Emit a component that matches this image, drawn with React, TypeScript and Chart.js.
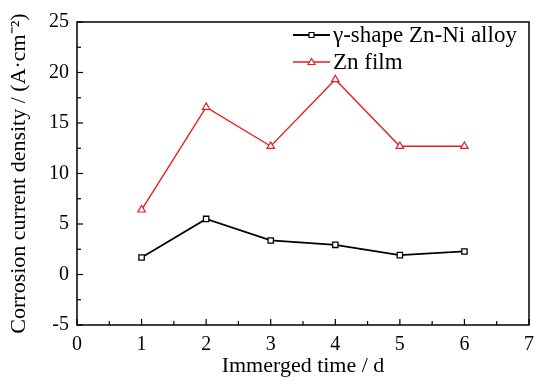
import React, { useEffect, useRef } from "react";
import { Chart, registerables } from "chart.js";

Chart.register(...registerables);

const days = [1, 2, 3, 4, 5, 6];
const znNiAlloy = [1.68, 5.5, 3.37, 2.94, 1.92, 2.28];
const znFilm = [6.4, 16.57, 12.7, 19.3, 12.7, 12.7];
const seriesLabels = ["γ-shape Zn-Ni alloy", "Zn film"];
const xTitle = "Immerged time / d";
const yTitle = "Corrosion current density / (A·cm⁻²)";

const FONT = "'Liberation Serif', serif";
Chart.defaults.font.family = FONT;

const framePlugin = {
  id: "frame",
  afterDraw(chart: any) {
    const { ctx, chartArea: a, scales } = chart;
    const xs = scales.x;
    const ys = scales.y;
    const L = Math.round(a.left);
    const R = Math.round(a.right);
    const T = Math.round(a.top);
    const B = Math.round(a.bottom);
    ctx.save();
    ctx.strokeStyle = "#000000";
    ctx.lineWidth = 1.5;
    ctx.beginPath();
    ctx.rect(L, T, R - L, B - T);
    ctx.stroke();
    ctx.fillStyle = "#000000";
    for (let v = xs.min; v <= xs.max + 1e-9; v += 0.5) {
      const px = xs.getPixelForValue(v);
      const len = Math.abs(v - Math.round(v)) < 1e-9 ? 6 : 4;
      ctx.fillRect(px - 0.6, B - len, 1.2, len);
    }
    for (let v = ys.min; v <= ys.max + 1e-9; v += 2.5) {
      const py = ys.getPixelForValue(v);
      const len = Math.abs(v / 5 - Math.round(v / 5)) < 1e-9 ? 6 : 4;
      ctx.fillRect(L, py - 0.6, len, 1.2);
    }
    ctx.restore();

    ctx.save();
    const rows = [35, 62];
    chart.data.datasets.forEach((ds: any, i: number) => {
      const y = rows[i];
      const x0 = 293;
      const x1 = 330;
      const cx = (x0 + x1) / 2;
      ctx.strokeStyle = ds.borderColor;
      ctx.lineWidth = ds.borderWidth;
      ctx.beginPath();
      ctx.moveTo(x0, y);
      ctx.lineTo(x1, y);
      ctx.stroke();
      ctx.fillStyle = "#fff";
      ctx.lineWidth = 1.2;
      ctx.beginPath();
      if (ds.pointStyle === "rect") {
        ctx.rect(cx - 2.5, y - 2.5, 5, 5);
      } else {
        ctx.moveTo(cx, y - 3.5);
        ctx.lineTo(cx + 3.5, y + 2.5);
        ctx.lineTo(cx - 3.5, y + 2.5);
        ctx.closePath();
      }
      ctx.fill();
      ctx.stroke();
      ctx.fillStyle = "#000";
      ctx.font = `23px ${FONT}`;
      ctx.textAlign = "left";
      ctx.textBaseline = "middle";
      ctx.fillText(ds.label, 333, y + 1);
    });
    ctx.restore();
  },
};

export default function App() {
  const ref = useRef<HTMLCanvasElement>(null);
  useEffect(() => {
    document.body.style.margin = "0";
    const chart = new Chart(ref.current as HTMLCanvasElement, {
      type: "line",
      data: {
        datasets: [
          {
            label: seriesLabels[0],
            data: days.map((d, i) => ({ x: d, y: znNiAlloy[i] })),
            borderColor: "#000000",
            backgroundColor: "#ffffff",
            borderWidth: 1.8,
            pointStyle: "rect",
            pointRadius: 3.8,
            pointBorderWidth: 1.3,
            pointBackgroundColor: "#ffffff",
            pointBorderColor: "#000000",
            tension: 0,
          },
          {
            label: seriesLabels[1],
            data: days.map((d, i) => ({ x: d, y: znFilm[i] })),
            borderColor: "#e41e20",
            backgroundColor: "#ffffff",
            borderWidth: 1.4,
            pointStyle: "triangle",
            pointRadius: 4.3,
            pointBorderWidth: 1.2,
            pointBackgroundColor: "#ffffff",
            pointBorderColor: "#e41e20",
            tension: 0,
          },
        ],
      },
      options: {
        responsive: false,
        animation: false,
        layout: { padding: { top: 22, right: 15, left: 0, bottom: 0 } },
        plugins: { legend: { display: false }, tooltip: { enabled: false } },
        scales: {
          x: {
            type: "linear",
            min: 0,
            max: 7,
            grid: { display: false, drawTicks: false },
            border: { display: false },
            ticks: {
              stepSize: 1,
              color: "#000",
              padding: 8,
              font: { family: FONT, size: 20 },
              maxRotation: 0,
            },
            title: {
              display: true,
              text: xTitle,
              color: "#000",
              font: { family: FONT, size: 22 },
              padding: { top: 0, bottom: 2 },
            },
            afterFit: (s: any) => {
              s.height = 56;
            },
          },
          y: {
            min: -5,
            max: 25,
            grid: { display: false, drawTicks: false },
            border: { display: false },
            ticks: {
              stepSize: 5,
              color: "#000",
              padding: 8,
              font: { family: FONT, size: 20 },
            },
            title: {
              display: true,
              text: yTitle,
              color: "#000",
              font: { family: FONT, size: 22 },
              padding: { top: 6, bottom: 0 },
            },
            afterFit: (s: any) => {
              s.width = 77;
            },
          },
        },
      },
      plugins: [framePlugin],
    } as any);
    return () => chart.destroy();
  }, []);
  return (
    <div style={{ position: "absolute", left: 0, top: 0, width: 544, height: 381, background: "#fff" }}>
      <canvas ref={ref} width={544} height={381} />
    </div>
  );
}
